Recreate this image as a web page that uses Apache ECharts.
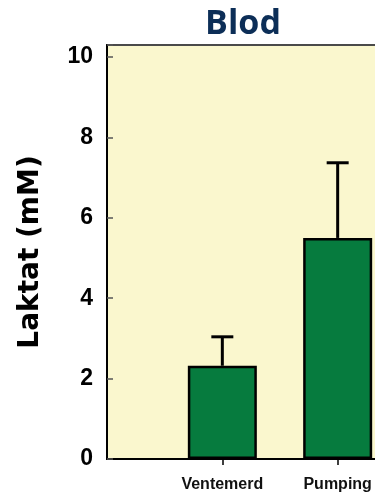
<!DOCTYPE html>
<html>
<head>
<meta charset="utf-8">
<script src="https://cdn.jsdelivr.net/npm/echarts@6/dist/echarts.min.js"></script>
<style>
html,body{margin:0;padding:0;background:#fff;}
#chart{width:375px;height:494px;}
</style>
</head>
<body>
<div id="chart"></div>
<script>
var categories = ['', 'Ventemerd', 'Pumping', ''];
var means = [null, 2.32, 5.50, null];
var errors = [null, 0.72, 1.87, null];
var yTicks = [0, 2, 4, 6, 8, 10];

var errData = [];
for (var i = 0; i < categories.length; i++) {
  if (means[i] != null) errData.push([i, means[i], means[i] + errors[i]]);
}

var chart = echarts.init(document.getElementById('chart'), null, {renderer: 'canvas'});
chart.setOption({
  animation: false,
  backgroundColor: '#ffffff',
  title: {
    text: 'Blod',
    left: 238,
    top: 2,
    textAlign: 'center',
    textStyle: {fontFamily: 'Open Sans', fontWeight: 'bold', fontSize: 34, color: '#0C2E57'}
  },
  grid: {
    left: 107, top: 45, width: 346, bottom: 35,
    outerBoundsMode: 'none',
    containLabel: false,
    show: true, backgroundColor: '#FAF7CE', borderColor: '#4a4a4a', borderWidth: 2
  },
  xAxis: {
    type: 'category',
    data: categories,
    boundaryGap: false,
    axisLine: {lineStyle: {color: '#000', width: 2}},
    axisTick: {
      length: 6, lineStyle: {color: '#000', width: 1.5},
      interval: function (idx, val) { return val !== ''; }
    },
    axisLabel: {
      margin: 18, fontFamily: 'Liberation Sans', fontWeight: 'bold', fontSize: 16, color: '#111',
      interval: 0
    },
    splitLine: {show: false}
  },
  yAxis: {
    type: 'value',
    min: 0, max: 10.3, interval: 2,
    name: 'Laktat (mM)',
    nameLocation: 'middle',
    nameGap: 62,
    nameTextStyle: {fontFamily: 'DejaVu Sans', fontWeight: 'bold', fontSize: 28, color: '#000'},
    axisLine: {show: true, lineStyle: {color: '#000', width: 2}},
    axisTick: {show: true, inside: true, length: 6, lineStyle: {color: '#555', width: 1.5}},
    axisLabel: {
      margin: 14, fontFamily: 'Liberation Sans', fontWeight: 'bold', fontSize: 23, color: '#000',
      formatter: function (v) { return yTicks.indexOf(v) >= 0 ? String(v) : ''; }
    },
    splitLine: {show: false}
  },
  series: [
    {
      type: 'bar',
      data: means,
      barWidth: 69,
      itemStyle: {color: '#067B3E', borderColor: '#000', borderWidth: 2.5},
      z: 2
    },
    {
      type: 'custom',
      data: errData,
      z: 3,
      renderItem: function (params, api) {
        var x = api.value(0);
        var base = api.coord([x, api.value(1)]);
        var top = api.coord([x, api.value(2)]);
        var half = 11;
        return {
          type: 'group',
          children: [
            {type: 'line', shape: {x1: top[0], y1: base[1], x2: top[0], y2: top[1]},
             style: {stroke: '#000', lineWidth: 3}},
            {type: 'line', shape: {x1: top[0] - half, y1: top[1], x2: top[0] + half, y2: top[1]},
             style: {stroke: '#000', lineWidth: 3}}
          ]
        };
      }
    }
  ]
});
</script>
</body>
</html>
